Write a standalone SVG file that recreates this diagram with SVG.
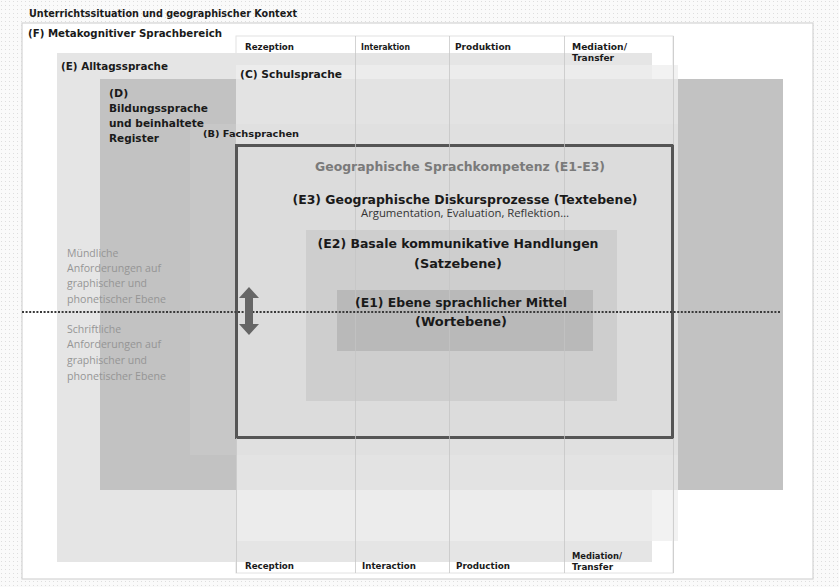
<svg xmlns="http://www.w3.org/2000/svg" width="839" height="587" viewBox="0 0 839 587">
<defs>
<pattern id="dots" width="4" height="4" patternUnits="userSpaceOnUse">
<rect width="4" height="4" fill="#fafafa"/>
<rect x="1" y="1" width="1" height="1" fill="#dedede"/>
</pattern>
<style>
.b{font-family:"DejaVu Sans",Verdana,sans-serif;font-weight:bold;fill:#1a1a1a}
.h{font-size:9px}
.l{font-size:11px}
.m{font-size:13px}
.s{font-family:"Open Sans","Liberation Sans",sans-serif;font-size:10.5px;fill:#959595}
.c{text-anchor:middle}
.col{stroke:#c4c4c4;stroke-width:1;fill:none;opacity:0.75}
</style>
</defs>
<rect width="839" height="587" fill="url(#dots)"/>
<rect x="22" y="23" width="791" height="556" fill="#ffffff" stroke="#d4d4d4" stroke-width="1.2"/>
<text class="b" x="29" y="17" font-size="10" textLength="268" lengthAdjust="spacingAndGlyphs">Unterrichtssituation und geographischer Kontext</text>

<g id="F-shape">
<rect x="236" y="36" width="437" height="537" fill="#ffffff" stroke="#e2e2e2"/>
</g>
<g id="E-shape">
<rect x="57" y="53" width="595" height="509" fill="#e5e5e5"/>
</g>
<g id="D-shape">
<rect x="100" y="79" width="683" height="411" fill="#c2c2c2"/>
</g>
<g id="C-shape">
<rect x="236" y="65" width="442" height="476" fill="#eeeeee" opacity="0.75"/>
</g>
<g id="B-shape">
<rect x="190" y="124" width="488" height="331" fill="#d6d6d6" opacity="0.25"/>
</g>
<g id="geo-shape">
<rect x="236.5" y="145.5" width="436" height="292" fill="#dcdcdc" stroke="#555555" stroke-width="3"/>
</g>
<g id="E2-shape">
<rect x="306" y="230" width="311" height="171" fill="#cecece"/>
</g>
<g id="E1-shape">
<rect x="337" y="290" width="256" height="61" fill="#b9b9b9"/>
</g>

<g id="collines">
<line class="col" x1="355.5" y1="36" x2="355.5" y2="573"/>
<line class="col" x1="449.5" y1="36" x2="449.5" y2="573"/>
<line class="col" x1="564.5" y1="36" x2="564.5" y2="573"/>
<line class="col" x1="673.5" y1="36" x2="673.5" y2="145"/>
<line class="col" x1="673.5" y1="438" x2="673.5" y2="573"/>
<line class="col" x1="236.5" y1="438" x2="236.5" y2="573"/>
</g>

<g id="F">
<text class="b l" x="28" y="37" textLength="194" lengthAdjust="spacingAndGlyphs">(F) Metakognitiver Sprachbereich</text>
</g>
<g id="E">
<text class="b l" x="61" y="70" textLength="107" lengthAdjust="spacingAndGlyphs">(E) Alltagssprache</text>
</g>
<g id="C">
<text class="b l" x="240" y="78" textLength="102" lengthAdjust="spacingAndGlyphs">(C) Schulsprache</text>
</g>
<g id="D">
<text class="b l" x="109" y="97">(D)</text>
<text class="b l" x="109" y="112" textLength="99" lengthAdjust="spacingAndGlyphs">Bildungssprache</text>
<text class="b l" x="109" y="127" textLength="95" lengthAdjust="spacingAndGlyphs">und beinhaltete</text>
<text class="b l" x="109" y="142" textLength="50" lengthAdjust="spacingAndGlyphs">Register</text>
</g>
<g id="B">
<text class="b" x="203" y="137" font-size="9.5" textLength="96" lengthAdjust="spacingAndGlyphs">(B) Fachsprachen</text>
</g>
<g id="geo">
<text class="b c" x="460" y="171" font-size="12.5" style="fill:#7a7a7a" textLength="290" lengthAdjust="spacingAndGlyphs">Geographische Sprachkompetenz (E1-E3)</text>
</g>
<g id="E3">
<text class="b m c" x="465" y="204" textLength="345" lengthAdjust="spacingAndGlyphs">(E3) Geographische Diskursprozesse (Textebene)</text>
<text class="c" x="465" y="217" font-family="'Open Sans','Liberation Sans',sans-serif" font-size="10" fill="#333333" textLength="208" lengthAdjust="spacingAndGlyphs">Argumentation, Evaluation, Reflektion…</text>
</g>
<g id="E2">
<text class="b m c" x="458" y="248" textLength="281" lengthAdjust="spacingAndGlyphs">(E2) Basale kommunikative Handlungen</text>
<text class="b m c" x="458" y="268" textLength="88" lengthAdjust="spacingAndGlyphs">(Satzebene)</text>
</g>
<g id="E1">
<text class="b m c" x="461" y="307" textLength="212" lengthAdjust="spacingAndGlyphs">(E1) Ebene sprachlicher Mittel</text>
<text class="b m c" x="461" y="326" textLength="92" lengthAdjust="spacingAndGlyphs">(Wortebene)</text>
</g>

<g id="headers">
<text class="b h" x="245" y="50" textLength="49" lengthAdjust="spacingAndGlyphs">Rezeption</text>
<text class="b h" x="361" y="50" textLength="49" lengthAdjust="spacingAndGlyphs">Interaktion</text>
<text class="b h" x="455" y="50" textLength="56" lengthAdjust="spacingAndGlyphs">Produktion</text>
<text class="b h" x="572" y="50" textLength="55" lengthAdjust="spacingAndGlyphs">Mediation/</text>
<text class="b h" x="572" y="61" textLength="42" lengthAdjust="spacingAndGlyphs">Transfer</text>
<text class="b h" x="245" y="569" textLength="49" lengthAdjust="spacingAndGlyphs">Reception</text>
<text class="b h" x="362" y="569" textLength="54" lengthAdjust="spacingAndGlyphs">Interaction</text>
<text class="b h" x="456" y="569" textLength="54" lengthAdjust="spacingAndGlyphs">Production</text>
<text class="b h" x="572" y="559" textLength="50" lengthAdjust="spacingAndGlyphs">Mediation/</text>
<text class="b h" x="572" y="570" textLength="41" lengthAdjust="spacingAndGlyphs">Transfer</text>
</g>

<g id="oral">
<text class="s" x="67" y="257">Mündliche</text>
<text class="s" x="67" y="272" textLength="94" lengthAdjust="spacingAndGlyphs">Anforderungen auf</text>
<text class="s" x="67" y="287">graphischer und</text>
<text class="s" x="67" y="303" textLength="99" lengthAdjust="spacingAndGlyphs">phonetischer Ebene</text>
</g>
<g id="written">
<text class="s" x="67" y="333">Schriftliche</text>
<text class="s" x="67" y="348" textLength="94" lengthAdjust="spacingAndGlyphs">Anforderungen auf</text>
<text class="s" x="67" y="364">graphischer und</text>
<text class="s" x="67" y="380" textLength="99" lengthAdjust="spacingAndGlyphs">phonetischer Ebene</text>
</g>

<g id="connectors">
<line x1="22" y1="312" x2="781" y2="312" stroke="#3a3a3a" stroke-width="2" stroke-dasharray="2 1.6"/>
<polygon points="249,287 259,298 253,298 253,324 259,324 249,335 239,324 245,324 245,298 239,298" fill="#666666"/>
</g>
</svg>
